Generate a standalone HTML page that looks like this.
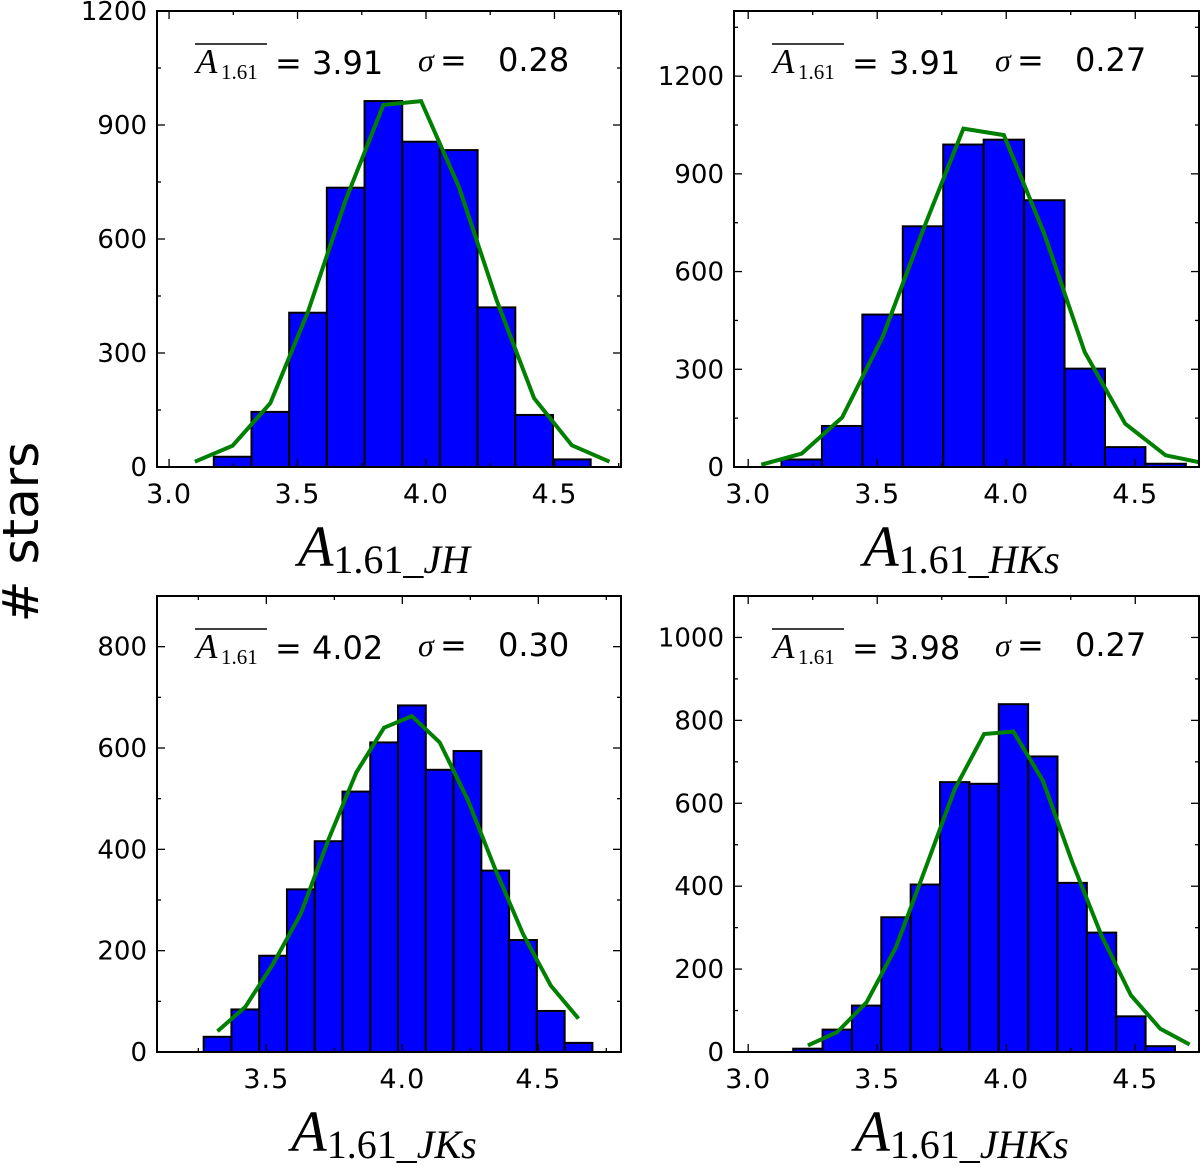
<!DOCTYPE html>
<html><head><meta charset="utf-8"><style>
body{margin:0;background:#fff}
svg text{font-family:"DejaVu Sans","Liberation Sans",sans-serif}
.serif{font-family:"Liberation Serif","DejaVu Serif",serif}
</style></head><body>
<svg id="fig" width="1200" height="1165" viewBox="0 0 1200 1165" xmlns="http://www.w3.org/2000/svg">
<text transform="translate(38,532) rotate(-90)" text-anchor="middle" font-size="50">#&#160;stars</text>
</svg>
<script>
// Panel 1: A_1.61_JH
const p1Edges0 = 3.174, p1Width = 0.1467;
const p1Counts = [27,145,406,735,963,856,834,420,137,20];
const p1Fit = [14,56,168,409,703,953,963,738,440,181,57,14];
const p1YTicks = [0,300,600,900,1200];
const p1XTicks = [3.0,3.5,4.0,4.5];
// Panel 2: A_1.61_HKs
const p2Edges0 = 3.129, p2Width = 0.1567;
const p2Counts = [23,126,468,739,990,1005,819,302,61,10];
const p2Fit = [7,41,152,399,727,1039,1019,716,353,133,36,10];
const p2YTicks = [0,300,600,900,1200];
const p2XTicks = [3.0,3.5,4.0,4.5];
// Panel 3: A_1.61_JKs
const p3Edges0 = 3.2695, p3Width = 0.1021;
const p3Counts = [30,84,190,321,416,514,611,684,557,594,358,221,81,18];
const p3Fit = [41,89,174,273,420,552,640,663,611,499,361,233,131,66];
const p3YTicks = [0,200,400,600,800];
const p3XTicks = [3.5,4.0,4.5];
// Panel 4: A_1.61_JHKs
const p4Edges0 = 3.1744, p4Width = 0.1138;
const p4Counts = [8,54,112,325,404,651,647,839,713,408,288,86,14];
const p4Fit = [16,48,120,253,442,634,767,773,655,458,281,137,56,18];
const p4YTicks = [0,200,400,600,800,1000];
const p4XTicks = [3.0,3.5,4.0,4.5];
const meanLabels = ["3.91","3.91","4.02","3.98"];
const sigmaLabels = ["0.28","0.27","0.30","0.27"];
const subLabels = ["JH","HKs","JKs","JHKs"];

const NS="http://www.w3.org/2000/svg";
const svg=document.getElementById('fig');
function mk(tag,attrs,parent){const e=document.createElementNS(NS,tag);for(const k in attrs)e.setAttribute(k,attrs[k]);(parent||svg).appendChild(e);return e;}

const panels=[
 {L:157,R:621,T:11,B:467,xmin:2.953,xmax:4.759,ymax:1200,e0:p1Edges0,w:p1Width,counts:p1Counts,fit:p1Fit,fitStart:-1,yt:p1YTicks,xt:p1XTicks},
 {L:734,R:1199,T:11,B:467,xmin:2.945,xmax:4.747,ymax:1400,e0:p2Edges0,w:p2Width,counts:p2Counts,fit:p2Fit,fitStart:-1,yt:p2YTicks,xt:p2XTicks},
 {L:157,R:621,T:596,B:1052,xmin:3.098,xmax:4.804,ymax:900,e0:p3Edges0,w:p3Width,counts:p3Counts,fit:p3Fit,fitStart:0,yt:p3YTicks,xt:p3XTicks},
 {L:734,R:1199,T:596,B:1052,xmin:2.945,xmax:4.747,ymax:1100,e0:p4Edges0,w:p4Width,counts:p4Counts,fit:p4Fit,fitStart:0,yt:p4YTicks,xt:p4XTicks}
];

panels.forEach((p,i)=>{
 const g=mk('g',{});
 
 
 const X=v=>p.L+(v-p.xmin)/(p.xmax-p.xmin)*(p.R-p.L);
 const Y=v=>p.B-v/p.ymax*(p.B-p.T);
 const cid='clip'+i;
 const cp=mk('clipPath',{id:cid},g);mk('rect',{x:p.L,y:p.T,width:p.R-p.L,height:p.B-p.T},cp);
 p.counts.forEach((c,k)=>{
  const x0=X(p.e0+k*p.w),x1=X(p.e0+(k+1)*p.w);
  const r=mk('rect',{x:x0,y:Y(c),width:x1-x0,height:Y(0)-Y(c),fill:'#0000ff',stroke:'#000','stroke-width':2},g);
  
  
 });
 const pts=p.fit.map((v,k)=>X(p.e0+(k+p.fitStart+0.5)*p.w).toFixed(1)+','+Y(v).toFixed(1)).join(' ');
 const pl=mk('polyline',{points:pts,fill:'none',stroke:'#008000','stroke-width':4,'clip-path':'url(#'+cid+')'},g);
 
 
 const fr=mk('rect',{x:p.L,y:p.T,width:p.R-p.L,height:p.B-p.T,fill:'none',stroke:'#000','stroke-width':2},g);
 
 
 const ystep=p.yt[1]-p.yt[0];
 for(let v=0;v<=p.ymax+1;v+=ystep/2){
  const major=(Math.round(v/ystep*2)%2===0);const len=major?8:4;const y=Y(v);
  mk('line',{x1:p.L,x2:p.L+len,y1:y,y2:y,stroke:'#000','stroke-width':1.3},g);
  mk('line',{x1:p.R,x2:p.R-len,y1:y,y2:y,stroke:'#000','stroke-width':1.3},g);
 }
 p.yt.forEach(v=>{const t=mk('text',{x:p.L-10,y:Y(v)+9,'text-anchor':'end','font-size':26},g);t.textContent=v;
  });
 for(let v=3.0;v<=4.8;v+=0.25){
  if(v<p.xmin||v>p.xmax)continue;
  const major=Math.abs(v*2-Math.round(v*2))<1e-6;const len=major?8:4;const x=X(v);
  mk('line',{x1:x,x2:x,y1:p.B,y2:p.B-len,stroke:'#000','stroke-width':1.3},g);
  mk('line',{x1:x,x2:x,y1:p.T,y2:p.T+len,stroke:'#000','stroke-width':1.3},g);
 }
 p.xt.forEach(v=>{const t=mk('text',{x:X(v),y:p.B+36,'text-anchor':'middle','font-size':27,'letter-spacing':'1'},g);t.textContent=v.toFixed(1);
  });
 const ox=p.L+38, oy=p.T+62;
 const an=mk('g',{},g);
 
 
 mk('line',{x1:ox,x2:ox+72,y1:p.T+33,y2:p.T+33,stroke:'#000','stroke-width':1.4},an);
 let t=mk('text',{x:ox+1,y:oy,'font-size':35,'font-style':'italic','class':'serif'},an);t.textContent='A';
 t=mk('text',{x:ox+26,y:oy+6,'font-size':21,'class':'serif'},an);t.textContent='1.61';
 t=mk('text',{x:ox+80,y:oy+1,'font-size':32},an);t.textContent='= '+meanLabels[i];
 t=mk('text',{x:ox+223,y:oy-2,'font-size':32,'font-style':'italic','class':'serif'},an);t.textContent='σ';
 t=mk('text',{x:ox+245,y:oy-2,'font-size':32},an);t.textContent='=';
 t=mk('text',{x:ox+303,y:oy-2,'font-size':32},an);t.textContent=sigmaLabels[i];
 const xt=mk('text',{x:(p.L+p.R)/2-5,y:p.B+99,'text-anchor':'middle','class':'serif'},g);
 
 
 const ta=mk('tspan',{'font-size':58,'font-style':'italic'},xt);ta.textContent='A';
 const tb=mk('tspan',{'font-size':40,dy:7},xt);tb.textContent='1.61_';
 const tc=mk('tspan',{'font-size':40,'font-style':'italic'},xt);tc.textContent=subLabels[i];
});
</script>
</body></html>
